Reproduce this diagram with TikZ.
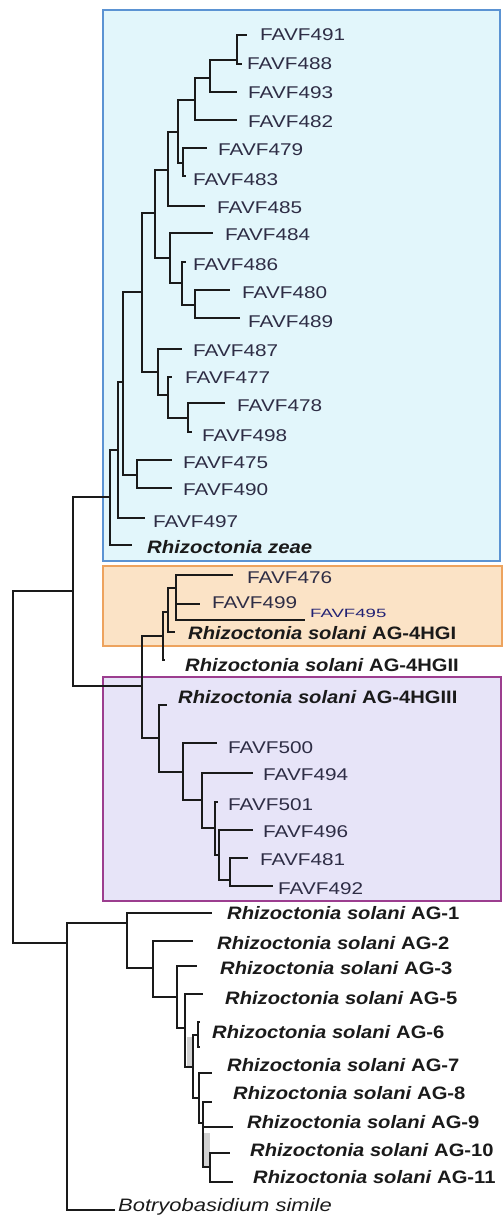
\documentclass[tikz,border=0pt]{standalone}
\usepackage{fontspec}
\setmainfont{Liberation Sans}
\usepackage{graphicx}
\definecolor{favc}{HTML}{2E2D45}
\definecolor{spcc}{HTML}{1A1A1A}
\definecolor{bluefill}{HTML}{E2F6FB}
\definecolor{blueline}{HTML}{5B93D3}
\definecolor{orfill}{HTML}{FBE3C6}
\definecolor{orline}{HTML}{EDA35E}
\definecolor{pufill}{HTML}{E7E4F8}
\definecolor{puline}{HTML}{9C3D8F}
\definecolor{treec}{HTML}{1A1A1A}
\newcommand{\fv}[1]{\scalebox{1.22}[1]{FAVF#1}}
\newcommand{\rsol}[1]{\scalebox{1.12}[1]{\textit{Rhizoctonia solani} #1}}
\tikzset{
  fav/.style={anchor=west, inner sep=0pt, text=favc, font=\fontsize{17}{18}\selectfont},
  spc/.style={anchor=west, inner sep=0pt, text=spcc, font=\fontsize{18}{19}\selectfont\bfseries},
  branch/.style={draw=treec, line width=1.9pt},
  boxstyle/.style={line width=1.6pt}
}
\begin{document}
\begin{tikzpicture}[x=1pt, y=-1pt]
\useasboundingbox (0,0) rectangle (503,1217);
\fill[white] (0,0) rectangle (503,1217);
% group boxes
\filldraw[boxstyle, fill=bluefill, draw=blueline] (103,10) rectangle (500,561);
\filldraw[boxstyle, fill=orfill, draw=orline, line width=1.2pt] (103,566) rectangle (502,646);
\filldraw[boxstyle, fill=pufill, draw=puline] (103,677) rectangle (501,901);
% light grey shading in the lower clade
\fill[black!18] (187,1037) rectangle (193,1066);
\fill[black!18] (203,1133) rectangle (210,1167);
% internal nodes
\coordinate (M) at (13,767);
\coordinate (L) at (73,591);
\coordinate (K) at (110,497);
\coordinate (J) at (118,450);
\coordinate (I) at (123,382);
\coordinate (AF) at (137,475);
\coordinate (H) at (142,292);
\coordinate (G) at (155,213);
\coordinate (F) at (168,170);
\coordinate (D) at (178,132);
\coordinate (E) at (183,163);
\coordinate (C) at (195,100);
\coordinate (B) at (210,78);
\coordinate (A) at (237,60);
\coordinate (AH) at (170,258);
\coordinate (AI) at (182,283);
\coordinate (AJ) at (195,305);
\coordinate (AG) at (158,372);
\coordinate (AK) at (168,395);
\coordinate (AL) at (188,418);
\coordinate (X0) at (142,686);
\coordinate (X) at (163,636);
\coordinate (Y) at (168,612);
\coordinate (Z) at (176,588);
\coordinate (PA) at (159,738);
\coordinate (AA) at (183,772);
\coordinate (AB) at (202,800);
\coordinate (AC) at (215,828);
\coordinate (AD) at (219,855);
\coordinate (AE) at (230,880);
\coordinate (N) at (67,943);
\coordinate (O) at (127,923);
\coordinate (P) at (153,968);
\coordinate (Q) at (177,997);
\coordinate (R) at (185,1028);
\coordinate (S) at (193,1067);
\coordinate (T6) at (198,1035);
\coordinate (T) at (199,1098);
\coordinate (U) at (203,1123);
\coordinate (W) at (210,1167);
% branch tips
\coordinate (t491) at (247,35);
\coordinate (t488) at (242,64);
\coordinate (t493) at (237,92);
\coordinate (t482) at (237,120);
\coordinate (t479) at (207,148);
\coordinate (t483) at (186,176);
\coordinate (t485) at (205,206);
\coordinate (t484) at (213,233);
\coordinate (t486) at (186,262);
\coordinate (t480) at (230,290);
\coordinate (t489) at (240,318);
\coordinate (t487) at (182,349);
\coordinate (t477) at (172,377);
\coordinate (t478) at (225,403);
\coordinate (t498) at (192,432);
\coordinate (t475) at (172,460);
\coordinate (t490) at (172,488);
\coordinate (t497) at (145,518);
\coordinate (tzeae) at (132,545);
\coordinate (t476) at (233,575);
\coordinate (t499) at (200,604);
\coordinate (t495) at (305,620);
\coordinate (tHGI) at (175,632);
\coordinate (tHGII) at (165,660);
\coordinate (tHGIII) at (167,705);
\coordinate (t500) at (217,743);
\coordinate (t494) at (253,773);
\coordinate (t501) at (218,802);
\coordinate (t496) at (253,830);
\coordinate (t481) at (248,858);
\coordinate (t492) at (273,886);
\coordinate (tAG1) at (212,913);
\coordinate (tAG2) at (193,941);
\coordinate (tAG3) at (197,966);
\coordinate (tAG5) at (203,994);
\coordinate (tAG6a) at (200,1022);
\coordinate (tAG6b) at (200,1047);
\coordinate (tAG7) at (212,1073);
\coordinate (tAG8) at (212,1102);
\coordinate (tAG9) at (233,1127);
\coordinate (tAG10) at (230,1153);
\coordinate (tAG11) at (233,1182);
\coordinate (tBot) at (115,1210);
% branches
\foreach \p/\c in {M/L, M/N, L/K, L/X0, K/J, K/tzeae, J/I, J/t497, I/H, I/AF,
  AF/t475, AF/t490, H/G, H/AG, G/F, G/AH, F/D, F/t485, D/C, D/E, E/t479, E/t483,
  C/B, C/t482, B/A, B/t493, A/t491, A/t488, AH/t484, AH/AI, AI/t486, AI/AJ,
  AJ/t480, AJ/t489, AG/t487, AG/AK, AK/t477, AK/AL, AL/t478, AL/t498,
  X0/X, X0/PA, X/Y, X/tHGII, Y/Z, Y/tHGI, Z/t476, Z/t495,
  PA/tHGIII, PA/AA, AA/t500, AA/AB, AB/t494, AB/AC, AC/t501, AC/AD,
  AD/t496, AD/AE, AE/t481, AE/t492,
  N/O, N/tBot, O/tAG1, O/P, P/tAG2, P/Q, Q/tAG3, Q/R, R/tAG5, R/S,
  S/T6, S/T, T6/tAG6a, T6/tAG6b, T/tAG7, T/U, U/tAG8, U/tAG9, U/W,
  W/tAG10, W/tAG11}
  \draw[branch] (\p) |- (\c);
\draw[branch, line width=1.1pt] (Z) |- (t499);
% labels
\node[fav] (l491) at (260,35) {\fv{491}};
\node[fav] (l488) at (247,64) {\fv{488}};
\node[fav] (l493) at (248,93) {\fv{493}};
\node[fav] (l482) at (248,122) {\fv{482}};
\node[fav] (l479) at (218,150) {\fv{479}};
\node[fav] (l483) at (193,180) {\fv{483}};
\node[fav] (l485) at (217,208) {\fv{485}};
\node[fav] (l484) at (225,235) {\fv{484}};
\node[fav] (l486) at (193,265) {\fv{486}};
\node[fav] (l480) at (242,293) {\fv{480}};
\node[fav] (l489) at (248,322) {\fv{489}};
\node[fav] (l487) at (193,351) {\fv{487}};
\node[fav] (l477) at (185,378) {\fv{477}};
\node[fav] (l478) at (237,406) {\fv{478}};
\node[fav] (l498) at (202,436) {\fv{498}};
\node[fav] (l475) at (183,463) {\fv{475}};
\node[fav] (l490) at (183,490) {\fv{490}};
\node[fav] (l497) at (153,522) {\fv{497}};
\node[spc] (lzeae) at (147,547) {\scalebox{1.13}[1]{\textit{Rhizoctonia zeae}}};
\node[fav] (l476) at (247,578) {\fv{476}};
\node[fav] (l499) at (212,603) {\fv{499}};
\node[fav, text=favc!75!blue, font=\fontsize{12}{13}\selectfont] (l495) at (310,613) {\scalebox{1.55}[1]{FAVF495}};
\node[spc] (lHGI) at (188,633) {\rsol{AG-4HGI}};
\node[spc] (lHGII) at (185,665) {\rsol{AG-4HGII}};
\node[spc] (lHGIII) at (178,697) {\rsol{AG-4HGIII}};
\node[fav] (l500) at (228,748) {\fv{500}};
\node[fav] (l494) at (263,775) {\fv{494}};
\node[fav] (l501) at (228,805) {\fv{501}};
\node[fav] (l496) at (263,832) {\fv{496}};
\node[fav] (l481) at (260,860) {\fv{481}};
\node[fav] (l492) at (278,889) {\fv{492}};
\node[spc] (lAG1) at (227,913) {\rsol{AG-1}};
\node[spc] (lAG2) at (217,943) {\rsol{AG-2}};
\node[spc] (lAG3) at (220,968) {\rsol{AG-3}};
\node[spc] (lAG5) at (225,998) {\rsol{AG-5}};
\node[spc] (lAG6) at (212,1032) {\rsol{AG-6}};
\node[spc] (lAG7) at (227,1065) {\rsol{AG-7}};
\node[spc] (lAG8) at (233,1093) {\rsol{AG-8}};
\node[spc] (lAG9) at (247,1122) {\rsol{AG-9}};
\node[spc] (lAG10) at (250,1150) {\rsol{AG-10}};
\node[spc] (lAG11) at (253,1177) {\rsol{AG-11}};
\node[spc, font=\fontsize{18}{19}\selectfont] (lBot) at (118,1207) {\scalebox{1.22}[1]{\textit{Botryobasidium simile}}};
\end{tikzpicture}
\end{document}
